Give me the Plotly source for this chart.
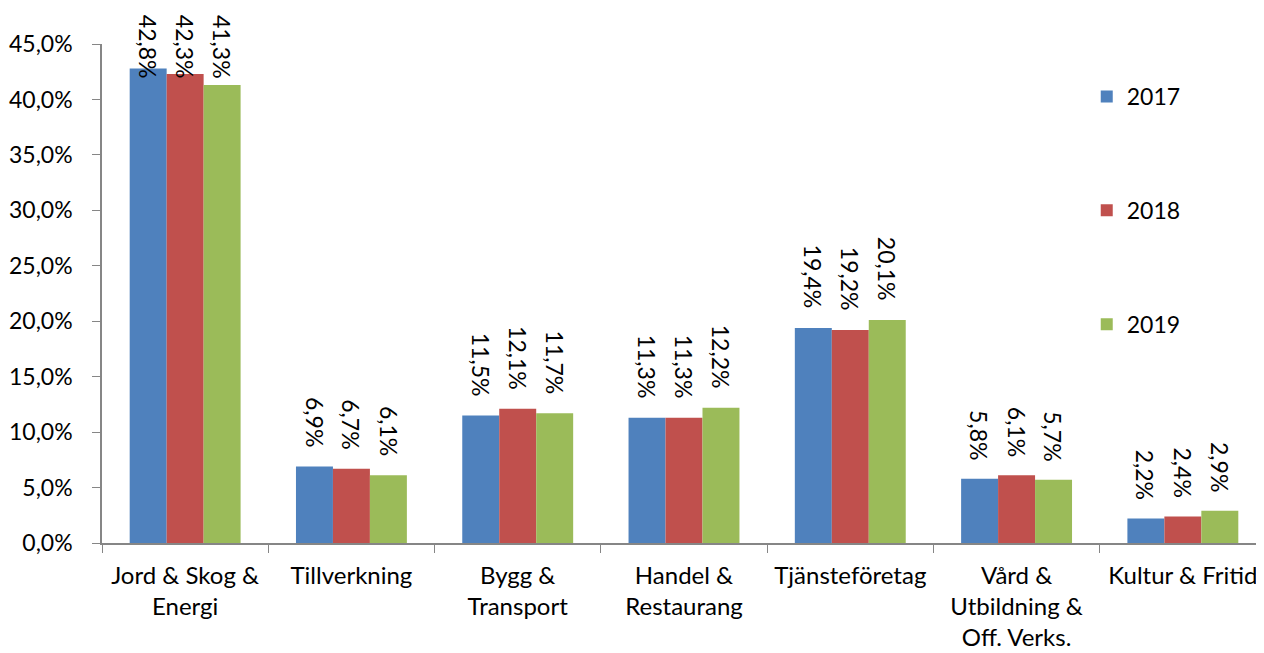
import plotly.graph_objects as go

categories = ["Jord & Skog &<br>Energi", "Tillverkning", "Bygg &<br>Transport", "Handel &<br>Restaurang",
              "Tjänsteföretag", "Vård &<br>Utbildning &<br>Off. Verks.", "Kultur & Fritid"]
years = ["2017", "2018", "2019"]
v2017 = [0.428, 0.069, 0.115, 0.113, 0.194, 0.058, 0.022]
v2018 = [0.423, 0.067, 0.121, 0.113, 0.192, 0.061, 0.024]
v2019 = [0.413, 0.061, 0.117, 0.122, 0.201, 0.057, 0.029]
series = [v2017, v2018, v2019]
colors = ["#4F81BD", "#C0504D", "#9BBB59"]

FONT = "Lato"
W, H = 1264, 653
ML, MR, MT, MB = 94, 6, 36, 118
BARGAP = 0.333
YMAX = 0.45

plot_w = W - ML - MR
bar_px = plot_w / len(categories) * (1 - BARGAP) / len(series)

fig = go.Figure()
for i, (y, vals) in enumerate(zip(years, series)):
    fig.add_trace(go.Bar(
        x=categories, y=vals, name=y, legendgroup=y,
        marker=dict(color=colors[i], line=dict(width=0)),
    ))

# data labels (Excel style: above bars, pinned to chart top if they don't fit)
for i, vals in enumerate(series):
    for c, v in zip(categories, vals):
        txt = f"{v*100:.1f}%".replace(".", ",")
        common = dict(x=c, xref="x", text=txt, showarrow=False, textangle=90,
                      xshift=(i - 1) * bar_px,
                      font=dict(size=23, color="black", family=FONT))
        if v <= 0.40:
            fig.add_annotation(y=v, yref="y", yanchor="bottom", yshift=17, **common)
        else:
            fig.add_annotation(y=1, yref="y domain", yanchor="top", yshift=31, **common)

fig.update_layout(
    width=W, height=H,
    margin=dict(l=ML, r=MR, t=MT, b=MB, autoexpand=False),
    plot_bgcolor="white", paper_bgcolor="white",
    barmode="group", bargap=BARGAP, bargroupgap=0,
    separators=",.",
    font=dict(family=FONT, size=22, color="black"),
    legend=dict(x=0.846, y=0.938, xanchor="left", yanchor="top",
                font=dict(size=23, family=FONT), tracegroupgap=81,
                itemwidth=30, bgcolor="rgba(0,0,0,0)"),
    showlegend=True,
)
fig.update_xaxes(showline=True, linecolor="#868686", linewidth=1.5, automargin=False,
                 ticks="outside", tickson="boundaries", ticklen=8, tickcolor="#868686",
                 ticklabelstandoff=10, tickangle=0,
                 tickfont=dict(size=24, family=FONT))
fig.update_yaxes(range=[0, YMAX], dtick=0.05, tickformat=".1%", showgrid=False, automargin=False,
                 showline=True, linecolor="#868686", linewidth=1.5,
                 ticks="outside", ticklen=8, tickcolor="#868686",
                 ticklabelstandoff=15,
                 tickfont=dict(size=23, family=FONT), zeroline=False)
fig.write_html("out.html")
